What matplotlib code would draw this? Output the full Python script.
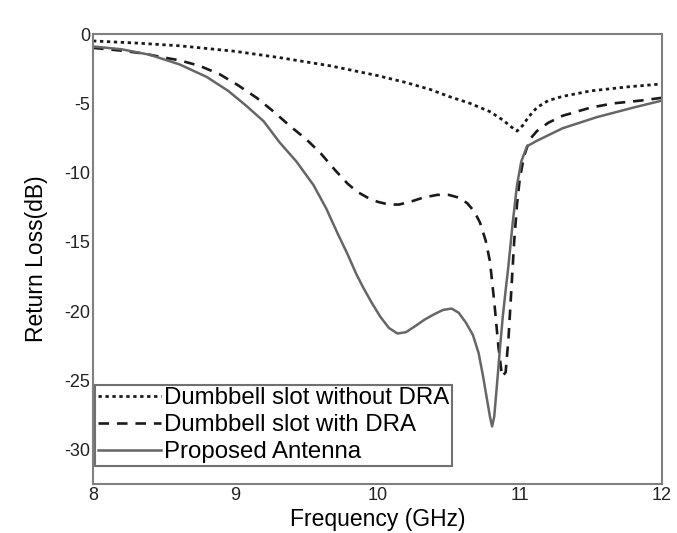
import matplotlib.pyplot as plt

plt.rcParams['font.family'] = ['Liberation Sans', 'DejaVu Sans']
plt.rcParams['axes.unicode_minus'] = False

# Return loss curves (frequency in GHz, return loss in dB)
freq_nodra = [8.0, 8.3, 8.61, 9.0, 9.31, 9.67, 10.0, 10.2, 10.37, 10.5, 10.65, 10.79,
              10.88, 10.94, 10.98, 11.02, 11.06, 11.12, 11.2, 11.3, 11.5, 11.77, 12.0]
rl_nodra = [-0.5, -0.65, -0.85, -1.25, -1.7, -2.3, -3.0, -3.5, -4.0, -4.5, -5.0, -5.6,
            -6.2, -6.7, -7.0, -6.6, -6.0, -5.3, -4.8, -4.5, -4.1, -3.8, -3.6]

freq_dra = [8.0, 8.2, 8.35, 8.5, 8.61, 8.75, 8.89, 9.02, 9.15, 9.27, 9.38, 9.5, 9.6,
            9.7, 9.79, 9.86, 9.93, 10.0, 10.08, 10.15, 10.23, 10.32, 10.42, 10.5, 10.57,
            10.63, 10.68, 10.72, 10.76, 10.79, 10.82, 10.85, 10.875, 10.9, 10.92, 10.94,
            10.96, 10.98, 11.0, 11.03, 11.07, 11.12, 11.2, 11.3, 11.5, 11.66, 11.85, 12.0]
rl_dra = [-1.0, -1.2, -1.4, -1.7, -1.9, -2.3, -2.9, -3.7, -4.6, -5.6, -6.6, -7.6, -8.6,
          -9.8, -10.8, -11.4, -11.8, -12.1, -12.3, -12.3, -12.1, -11.8, -11.6, -11.6,
          -11.8, -12.2, -12.8, -13.6, -14.9, -16.4, -19.3, -22.6, -24.7, -24.4, -22.0,
          -18.5, -15.0, -12.3, -10.4, -8.8, -7.6, -7.0, -6.4, -5.9, -5.3, -5.0, -4.8, -4.6]

freq_prop = [8.0, 8.2, 8.4, 8.61, 8.8, 8.95, 9.08, 9.2, 9.31, 9.43, 9.55, 9.64, 9.72,
             9.79, 9.85, 9.9, 9.96, 10.02, 10.08, 10.14, 10.2, 10.26, 10.33, 10.4, 10.46,
             10.52, 10.57, 10.62, 10.67, 10.71, 10.74, 10.77, 10.79, 10.805, 10.82, 10.84,
             10.86, 10.88, 10.9, 10.92, 10.95, 10.98, 11.01, 11.05, 11.12, 11.3, 11.54,
             11.8, 12.0]
rl_prop = [-0.9, -1.1, -1.5, -2.2, -3.1, -4.1, -5.2, -6.3, -7.8, -9.2, -10.9, -12.6,
           -14.4, -15.9, -17.3, -18.3, -19.4, -20.4, -21.2, -21.6, -21.5, -21.1, -20.6,
           -20.2, -19.9, -19.8, -20.1, -20.8, -21.7, -23.0, -24.6, -26.4, -27.6, -28.3,
           -27.6, -25.2, -22.7, -20.4, -18.5, -16.7, -13.6, -10.9, -9.2, -8.1, -7.7,
           -6.8, -6.0, -5.3, -4.8]

fig = plt.figure(figsize=(6.77, 5.33), dpi=100)
ax = fig.add_axes([0.1374, 0.092, 0.8406, 0.8442])

ax.plot(freq_nodra, rl_nodra, color='#1a1a1a', lw=2.0, linestyle=(0, (1.2, 1.3)),
        label='Dumbbell slot without DRA')
ax.plot(freq_dra, rl_dra, color='#1a1a1a', lw=1.9, linestyle=(0, (4, 3)),
        label='Dumbbell slot with DRA')
ax.plot(freq_prop, rl_prop, color='#666666', lw=1.8, label='Proposed Antenna')

ax.set_xlim(8, 12)
ax.set_ylim(-32.45, 0)
ax.set_xticks([8, 9, 10, 11, 12])
ax.set_yticks([0, -5, -10, -15, -20, -25, -30])
ax.tick_params(length=0, pad=2, labelsize=13, colors='#222222')
for s in ax.spines.values():
    s.set_color('#808080')
    s.set_linewidth(1.5)

ax.set_xlabel('Frequency (GHz)', fontsize=16.5, labelpad=3)
ax.set_ylabel('Return Loss(dB)', fontsize=16.5, labelpad=12)

leg = ax.legend(loc='lower left', bbox_to_anchor=(0.004, 0.04), fontsize=17.3,
                handlelength=2.6, handletextpad=0.15, labelspacing=0.2,
                borderpad=0.12, borderaxespad=0, fancybox=False, framealpha=1)
leg.get_frame().set_edgecolor('#707070')
leg.get_frame().set_linewidth(1.5)

fig.savefig('out.png', dpi=100)
